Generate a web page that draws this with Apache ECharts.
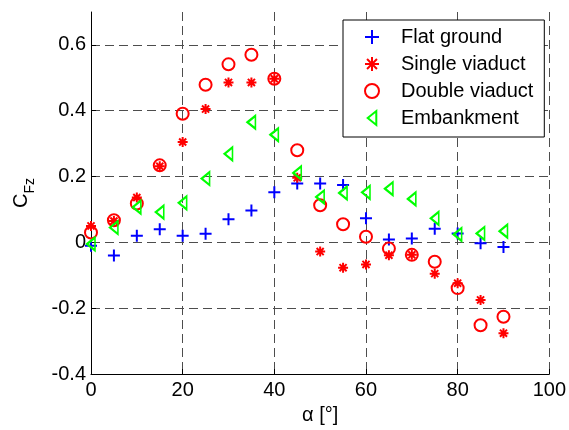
<!DOCTYPE html>
<html>
<head>
<meta charset="utf-8">
<script src="https://cdn.jsdelivr.net/npm/echarts@6/dist/echarts.min.js"></script>
<style>
  html, body { margin: 0; padding: 0; background: #fff; }
  #chart { width: 569px; height: 430px; }
</style>
</head>
<body>
<div id="chart"></div>
<script>
// Yaw angle (degrees) shared by every data set
const angles = [0, 5, 10, 15, 20, 25, 30, 35, 40, 45, 50, 55, 60, 65, 70, 75, 80, 85, 90];

// Vertical force coefficient C_Fz per configuration
const flatGround    = [-0.01, -0.04, 0.02, 0.04, 0.02, 0.026, 0.07, 0.097, 0.152, 0.179, 0.179, 0.174, 0.073, 0.009, 0.012, 0.041, 0.027, -0.003, -0.014];
const singleViaduct = [0.05, 0.065, 0.136, 0.231, 0.305, 0.405, 0.486, 0.486, 0.497, 0.196, -0.028, -0.077, -0.067, -0.039, -0.038, -0.095, -0.124, -0.175, -0.276];
const doubleViaduct = [0.03, 0.067, 0.118, 0.234, 0.391, 0.479, 0.541, 0.57, 0.497, 0.28, 0.113, 0.055, 0.017, -0.019, -0.038, -0.059, -0.139, -0.252, -0.226];
const embankment    = [-0.005, 0.045, 0.107, 0.092, 0.12, 0.194, 0.269, 0.365, 0.327, 0.211, 0.138, 0.15, 0.152, 0.163, 0.132, 0.073, 0.024, 0.027, 0.034];

const seriesNames = ['Flat ground', 'Single viaduct', 'Double viaduct', 'Embankment'];

// Axis tick settings
const xTicks = { min: 0, max: 100, step: 20 };
const yTicks = { min: -0.4, max: 0.7, step: 0.2 };

const FONT = 'Liberation Sans, Arial, sans-serif';

const pairs = vals => angles.map((a, i) => [a, vals[i]]);

// Marker outlines (stroked, not filled)
const PLUS = 'path://M0,5L10,5M5,0L5,10';
const STAR = 'path://M0,5L10,5M5,0L5,10M1.46,1.46L8.54,8.54M1.46,8.54L8.54,1.46';
const TRI_LEFT = 'path://M0,6.5L8,0L8,13Z';

const gridLine = { show: true, lineStyle: { color: '#4d4d4d', type: [9, 5], width: 1 } };

const markerStyle = color => ({ color: 'transparent', borderColor: color, borderWidth: 2, opacity: 1 });

const chart = echarts.init(document.getElementById('chart'), null, { renderer: 'canvas' });

chart.setOption({
  animation: false,
  backgroundColor: '#fff',
  grid: { left: 91, right: 18, top: 12, bottom: 54, containLabel: false },
  legend: {
    orient: 'vertical',
    left: 343,
    top: 20,
    padding: [7, 11, 9, 21],
    backgroundColor: '#fff',
    borderColor: '#000',
    borderWidth: 1,
    borderRadius: 0,
    itemWidth: 14,
    itemHeight: 14,
    itemGap: 7,
    textStyle: { fontFamily: FONT, fontSize: 20, color: '#000', lineHeight: 20, padding: [0, 0, 0, 17] },
    data: seriesNames
  },
  xAxis: {
    type: 'value',
    min: xTicks.min, max: xTicks.max, interval: xTicks.step,
    name: 'α [°]',
    nameLocation: 'middle',
    nameGap: 31,
    nameTextStyle: { fontFamily: FONT, fontSize: 20, color: '#000' },
    axisLine: { show: true, onZero: false, lineStyle: { color: '#000', width: 1 } },
    axisTick: { show: true, inside: true, length: 5, lineStyle: { color: '#000' } },
    axisLabel: { fontFamily: FONT, fontSize: 20, color: '#000', margin: 6 },
    splitLine: Object.assign({ showMinLine: false }, gridLine)
  },
  yAxis: {
    type: 'value',
    min: yTicks.min, max: yTicks.max, interval: yTicks.step,
    name: '{c|C}{s|Fz}',
    nameLocation: 'middle',
    nameGap: 54,
    nameRotate: 90,
    nameTextStyle: {
      fontFamily: FONT, color: '#000',
      rich: {
        c: { fontFamily: FONT, fontSize: 20, color: '#000', lineHeight: 26, verticalAlign: 'top' },
        s: { fontFamily: FONT, fontSize: 14, color: '#000', lineHeight: 14, padding: [12, 0, 0, 0], verticalAlign: 'top' }
      }
    },
    axisLine: { show: true, onZero: false, lineStyle: { color: '#000', width: 1 } },
    axisTick: { show: true, inside: true, length: 5, lineStyle: { color: '#000' } },
    axisLabel: { fontFamily: FONT, fontSize: 20, color: '#000', margin: 5, showMaxLabel: false },
    splitLine: Object.assign({ showMinLine: false, showMaxLine: false }, gridLine)
  },
  series: [
    {
      name: seriesNames[0], type: 'scatter', data: pairs(flatGround),
      symbol: PLUS, symbolSize: 12,
      itemStyle: markerStyle('#0000ff')
    },
    {
      name: seriesNames[1], type: 'scatter', data: pairs(singleViaduct),
      symbol: STAR, symbolSize: 10,
      itemStyle: markerStyle('#ff0000')
    },
    {
      name: seriesNames[2], type: 'scatter', data: pairs(doubleViaduct),
      symbol: 'circle', symbolSize: 12,
      itemStyle: markerStyle('#ff0000')
    },
    {
      name: seriesNames[3], type: 'scatter', data: pairs(embankment),
      symbol: TRI_LEFT, symbolSize: [8, 13],
      itemStyle: markerStyle('#00ff00')
    }
  ]
});
</script>
</body>
</html>
